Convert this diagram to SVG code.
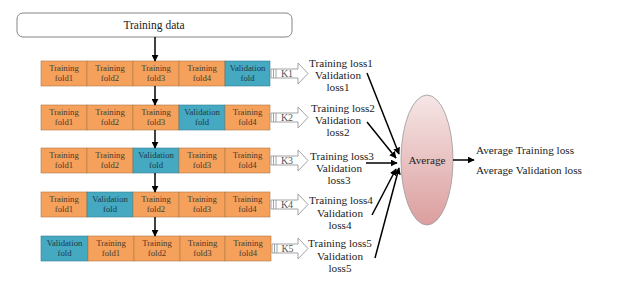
<svg xmlns="http://www.w3.org/2000/svg" width="618" height="292" viewBox="0 0 618 292">
<defs>
<marker id="ah" viewBox="0 0 10 10" refX="9" refY="5" markerWidth="7" markerHeight="7" markerUnits="userSpaceOnUse" orient="auto">
<path d="M0,0 L10,5 L0,10 Z" fill="#000"/>
</marker>
<linearGradient id="eg" x1="0" y1="0" x2="0" y2="1">
<stop offset="0" stop-color="#f6e6e6"/>
<stop offset="1" stop-color="#dc9e9e"/>
</linearGradient>
<style>
.tr{fill:#f5a15c;stroke:#b07848;stroke-width:0.6}
.va{fill:#45a9c2;stroke:#2f7f93;stroke-width:0.6}
.ct{font-family:"Liberation Serif",serif;font-size:8.7px;fill:#4a3a2c;text-anchor:middle}
.lt{font-family:"Liberation Serif",serif;font-size:11.2px;fill:#222;text-anchor:middle}
.kt{font-family:"Liberation Serif",serif;font-size:10px;fill:#555;text-anchor:middle}
.ka{fill:#fff;stroke:#999;stroke-width:0.9}
.kb{stroke:#999;stroke-width:0.9}
.cn{stroke:#000;stroke-width:1.5;fill:none;marker-end:url(#ah)}
</style>
</defs>
<rect width="618" height="292" fill="#fff"/>
<g id="training-data">
<rect x="17" y="13" width="275" height="24" rx="6" fill="#fff" stroke="#777" stroke-width="0.9"/>
<text x="154" y="29" class="lt" style="font-size:11.5px">Training data</text>
</g>
<g id="row1">
<rect class="tr" x="41" y="61" width="46" height="25"/><rect class="tr" x="87" y="61" width="46" height="25"/><rect class="tr" x="133" y="61" width="46" height="25"/><rect class="tr" x="179" y="61" width="46" height="25"/><rect class="va" x="225" y="61" width="45" height="25"/>
<text class="ct" x="64" y="71">Training</text><text class="ct" x="64" y="80.5">fold1</text>
<text class="ct" x="110" y="71">Training</text><text class="ct" x="110" y="80.5">fold2</text>
<text class="ct" x="156" y="71">Training</text><text class="ct" x="156" y="80.5">fold3</text>
<text class="ct" x="202" y="71">Training</text><text class="ct" x="202" y="80.5">fold4</text>
<text class="ct" x="247.5" y="71" style="fill:#1d3a48">Validation</text><text class="ct" x="247.5" y="80.5" style="fill:#1d3a48">fold</text>
</g>
<g id="row2">
<rect class="tr" x="41" y="105" width="46" height="25"/><rect class="tr" x="87" y="105" width="46" height="25"/><rect class="tr" x="133" y="105" width="46" height="25"/><rect class="va" x="179" y="105" width="46" height="25"/><rect class="tr" x="225" y="105" width="45" height="25"/>
<text class="ct" x="64" y="115">Training</text><text class="ct" x="64" y="124.5">fold1</text>
<text class="ct" x="110" y="115">Training</text><text class="ct" x="110" y="124.5">fold2</text>
<text class="ct" x="156" y="115">Training</text><text class="ct" x="156" y="124.5">fold3</text>
<text class="ct" x="202" y="115" style="fill:#1d3a48">Validation</text><text class="ct" x="202" y="124.5" style="fill:#1d3a48">fold</text>
<text class="ct" x="247.5" y="115">Training</text><text class="ct" x="247.5" y="124.5">fold4</text>
</g>
<g id="row3">
<rect class="tr" x="41" y="148" width="46" height="25"/><rect class="tr" x="87" y="148" width="46" height="25"/><rect class="va" x="133" y="148" width="46" height="25"/><rect class="tr" x="179" y="148" width="46" height="25"/><rect class="tr" x="225" y="148" width="45" height="25"/>
<text class="ct" x="64" y="158">Training</text><text class="ct" x="64" y="167.5">fold1</text>
<text class="ct" x="110" y="158">Training</text><text class="ct" x="110" y="167.5">fold2</text>
<text class="ct" x="156" y="158" style="fill:#1d3a48">Validation</text><text class="ct" x="156" y="167.5" style="fill:#1d3a48">fold</text>
<text class="ct" x="202" y="158">Training</text><text class="ct" x="202" y="167.5">fold3</text>
<text class="ct" x="247.5" y="158">Training</text><text class="ct" x="247.5" y="167.5">fold4</text>
</g>
<g id="row4">
<rect class="tr" x="41" y="192" width="46" height="25"/><rect class="va" x="87" y="192" width="46" height="25"/><rect class="tr" x="133" y="192" width="46" height="25"/><rect class="tr" x="179" y="192" width="46" height="25"/><rect class="tr" x="225" y="192" width="45" height="25"/>
<text class="ct" x="64" y="202">Training</text><text class="ct" x="64" y="211.5">fold1</text>
<text class="ct" x="110" y="202" style="fill:#1d3a48">Validation</text><text class="ct" x="110" y="211.5" style="fill:#1d3a48">fold</text>
<text class="ct" x="156" y="202">Training</text><text class="ct" x="156" y="211.5">fold2</text>
<text class="ct" x="202" y="202">Training</text><text class="ct" x="202" y="211.5">fold3</text>
<text class="ct" x="247.5" y="202">Training</text><text class="ct" x="247.5" y="211.5">fold4</text>
</g>
<g id="row5">
<rect class="va" x="41" y="236" width="47" height="25"/><rect class="tr" x="88" y="236" width="46" height="25"/><rect class="tr" x="134" y="236" width="46" height="25"/><rect class="tr" x="180" y="236" width="45" height="25"/><rect class="tr" x="225" y="236" width="46" height="25"/>
<text class="ct" x="64.5" y="246" style="fill:#1d3a48">Validation</text><text class="ct" x="64.5" y="255.5" style="fill:#1d3a48">fold</text>
<text class="ct" x="111" y="246">Training</text><text class="ct" x="111" y="255.5">fold1</text>
<text class="ct" x="157" y="246">Training</text><text class="ct" x="157" y="255.5">fold2</text>
<text class="ct" x="202.5" y="246">Training</text><text class="ct" x="202.5" y="255.5">fold3</text>
<text class="ct" x="248" y="246">Training</text><text class="ct" x="248" y="255.5">fold4</text>
</g>
<g id="k-arrows">
<g id="k1"><path class="ka" d="M271,69 H298 V63 L308,73.5 L298,84 V78 H271 Z"/><path class="kb" d="M273.5,69 V78 M276,69 V78"/><text class="kt" x="287" y="77">K1</text></g>
<g id="k2"><path class="ka" d="M271,113 H298 V107 L308,117.5 L298,128 V122 H271 Z"/><path class="kb" d="M273.5,113 V122 M276,113 V122"/><text class="kt" x="287" y="121">K2</text></g>
<g id="k3"><path class="ka" d="M271,156 H298 V150 L308,160.5 L298,171 V165 H271 Z"/><path class="kb" d="M273.5,156 V165 M276,156 V165"/><text class="kt" x="287" y="164">K3</text></g>
<g id="k4"><path class="ka" d="M271,200 H298 V194 L308,204.5 L298,215 V209 H271 Z"/><path class="kb" d="M273.5,200 V209 M276,200 V209"/><text class="kt" x="287" y="208">K4</text></g>
<g id="k5"><path class="ka" d="M272,244 H298 V238 L308,248.5 L298,259 V253 H272 Z"/><path class="kb" d="M274.5,244 V253 M277,244 V253"/><text class="kt" x="287.5" y="252">K5</text></g>
</g>
<g id="loss-labels">
<g id="loss1"><text class="lt" x="341" y="67">Training loss1</text><text class="lt" x="338" y="79">Validation</text><text class="lt" x="338" y="91">loss1</text></g>
<g id="loss2"><text class="lt" x="343" y="112">Training loss2</text><text class="lt" x="338" y="124">Validation</text><text class="lt" x="338" y="136">loss2</text></g>
<g id="loss3"><text class="lt" x="342" y="160">Training loss3</text><text class="lt" x="339" y="172">Validation</text><text class="lt" x="339" y="184">loss3</text></g>
<g id="loss4"><text class="lt" x="341" y="204">Training loss4</text><text class="lt" x="340" y="217">Validation</text><text class="lt" x="340" y="229">loss4</text></g>
<g id="loss5"><text class="lt" x="340" y="247">Training loss5</text><text class="lt" x="340" y="260">Validation</text><text class="lt" x="340" y="272">loss5</text></g>
</g>
<g id="average">
<ellipse cx="427" cy="160" rx="26" ry="65" fill="url(#eg)" stroke="#999" stroke-width="0.8"/>
<text class="lt" x="427" y="164">Average</text>
</g>
<g id="result">
<text class="lt" x="476" y="153.5" style="text-anchor:start">Average Training loss</text>
<text class="lt" x="476" y="173.5" style="text-anchor:start">Average Validation loss</text>
</g>
<g id="connectors">
<line class="cn" x1="155" y1="37" x2="155" y2="61"/>
<line class="cn" x1="155" y1="86" x2="155" y2="105"/>
<line class="cn" x1="155" y1="130" x2="155" y2="148"/>
<line class="cn" x1="155" y1="173" x2="155" y2="192"/>
<line class="cn" x1="155" y1="217" x2="155" y2="236"/>
<line class="cn" x1="367" y1="73" x2="399" y2="154"/>
<line class="cn" x1="367" y1="122" x2="396" y2="158"/>
<line class="cn" x1="366" y1="163" x2="397" y2="163"/>
<line class="cn" x1="372" y1="215" x2="396" y2="169"/>
<line class="cn" x1="375" y1="258" x2="399" y2="168"/>
<line class="cn" x1="453" y1="160" x2="474" y2="160"/>
</g>
</svg>
